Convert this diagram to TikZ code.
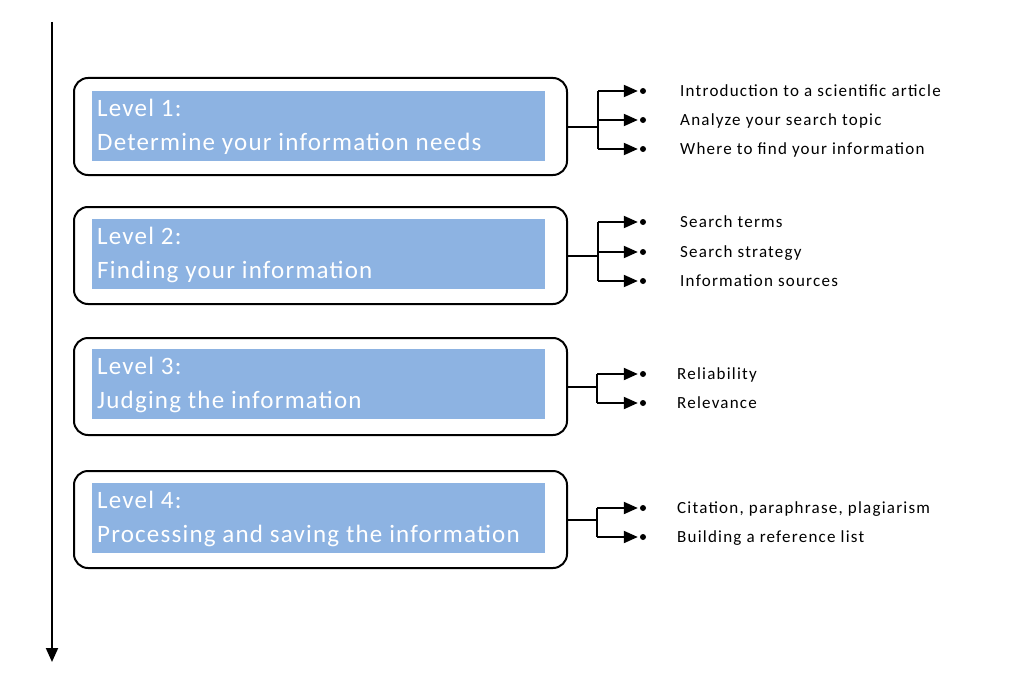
\documentclass[tikz,border=0pt]{standalone}
\usepackage{fontspec}
\setmainfont{Carlito}
\newfontfamily\lvlfont[LetterSpace=4.8]{Carlito}
\newfontfamily\itemfont[LetterSpace=7.2]{Carlito}
\usetikzlibrary{arrows.meta}
\definecolor{lvlblue}{RGB}{141,179,226}
\begin{document}
\begin{tikzpicture}[x=1pt,y=-1pt,
  outerbox/.style={draw, line width=2pt, rounded corners=14pt, minimum width=493pt, minimum height=97pt, inner sep=0pt, anchor=north west},
  innerbox/.style={fill=lvlblue, minimum width=453pt, minimum height=70pt, inner sep=0pt, anchor=north west},
  lvltext/.style={text=white, font=\lvlfont\fontsize{25}{34}\selectfont, align=left, anchor=base west, inner sep=0pt},
  itemtext/.style={font=\itemfont\fontsize{17}{20}\selectfont, anchor=base west, inner sep=0pt},
  bullet/.style={circle, fill=black, inner sep=0pt, minimum size=6pt},
  conn/.style={line width=2pt},
  arr/.style={line width=2pt, -{Triangle[length=14pt,width=12pt]}}
]
\useasboundingbox (0,0) rectangle (1024,682);
% timeline
\coordinate (top) at (52,22);
\coordinate (bot) at (52,662);
\draw[line width=2pt, -{Triangle[length=14pt,width=12pt]}] (top) -- (bot);

% Level boxes
\node[outerbox] (o1) at (73,77) {};
\node[innerbox] (i1) at (92,91) {};
\node[lvltext] (t1) at (97,150) {Level 1:\\Determine your information needs};

\node[outerbox] (o2) at (73,206) {};
\node[innerbox] (i2) at (92,219) {};
\node[lvltext] (t2) at (97,278) {Level 2:\\Finding your information};

\node[outerbox] (o3) at (73,337) {};
\node[innerbox] (i3) at (92,349) {};
\node[lvltext] (t3) at (97,408) {Level 3:\\Judging the information};

\node[outerbox] (o4) at (73,470) {};
\node[innerbox] (i4) at (92,483) {};
\node[lvltext] (t4) at (97,542) {Level 4:\\Processing and saving the information};

% bullets
\node[bullet] (b11) at (643,91) {};
\node[bullet] (b12) at (643,120) {};
\node[bullet] (b13) at (643,149) {};
\node[bullet] (b21) at (643,222) {};
\node[bullet] (b22) at (643,252) {};
\node[bullet] (b23) at (643,281) {};
\node[bullet] (b31) at (643,374) {};
\node[bullet] (b32) at (643,403) {};
\node[bullet] (b41) at (643,508) {};
\node[bullet] (b42) at (643,537) {};

% item texts
\node[itemtext] (x11) at (680,96.5) {Introduction to a scientific article};
\node[itemtext] (x12) at (680,125.5) {Analyze your search topic};
\node[itemtext] (x13) at (680,154.5) {Where to find your information};
\node[itemtext] (x21) at (680,227.5) {Search terms};
\node[itemtext] (x22) at (680,257.5) {Search strategy};
\node[itemtext] (x23) at (680,286.5) {Information sources};
\node[itemtext] (x31) at (677,379.5) {Reliability};
\node[itemtext] (x32) at (677,408.5) {Relevance};
\node[itemtext] (x41) at (677,513.5) {Citation, paraphrase, plagiarism};
\node[itemtext] (x42) at (677,542.5) {Building a reference list};

% junction columns
\coordinate (ja) at (598,0);
\coordinate (jb) at (597,0);

\draw[conn] (o1.east) -- (o1.east -| ja);
\draw[conn] (ja |- b11) -- (ja |- b13);
\draw[arr] (ja |- b11) -- ([xshift=-2pt]b11.west);
\draw[arr] (ja |- b12) -- ([xshift=-2pt]b12.west);
\draw[arr] (ja |- b13) -- ([xshift=-2pt]b13.west);

\draw[conn] (o2.east) -- (o2.east -| ja);
\draw[conn] (ja |- b21) -- (ja |- b23);
\draw[arr] (ja |- b21) -- ([xshift=-2pt]b21.west);
\draw[arr] (ja |- b22) -- ([xshift=-2pt]b22.west);
\draw[arr] (ja |- b23) -- ([xshift=-2pt]b23.west);

\draw[conn] (o3.east) -- (o3.east -| jb);
\draw[conn] (jb |- b31) -- (jb |- b32);
\draw[arr] (jb |- b31) -- ([xshift=-2pt]b31.west);
\draw[arr] (jb |- b32) -- ([xshift=-2pt]b32.west);

\draw[conn] (o4.east) -- (o4.east -| jb);
\draw[conn] (jb |- b41) -- (jb |- b42);
\draw[arr] (jb |- b41) -- ([xshift=-2pt]b41.west);
\draw[arr] (jb |- b42) -- ([xshift=-2pt]b42.west);
\end{tikzpicture}
\end{document}
